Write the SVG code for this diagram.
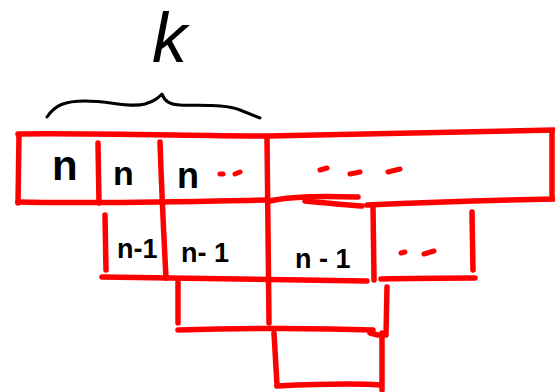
<svg xmlns="http://www.w3.org/2000/svg" width="555" height="392" viewBox="0 0 555 392">
<style>
.r{stroke:#ff0000;stroke-width:5.5;stroke-linecap:round;stroke-linejoin:round;fill:none}
.d{stroke:#ff0000;stroke-width:5;stroke-linecap:round;fill:none}
.b{stroke:#000;stroke-width:3;stroke-linecap:round;stroke-linejoin:round;fill:none}
.t{font-family:"Liberation Sans",Arial,sans-serif;font-weight:bold;fill:#000}
.k{font-family:"Liberation Sans",Arial,sans-serif;font-weight:normal;font-style:italic;fill:#000}
</style>
<rect width="555" height="392" fill="#fff"/>
<g id="label-k">
<text class="k" x="152" y="62" font-size="70">k</text>
<path class="b" d="M47,117 C55,105 65,101 85,101 C110,101 130,108 145,104 C155,101 158,98 162,94 C164,100 168,105 180,105 C200,106 225,104 240,110 L260,118"/>
</g>
<g id="row1">
<path class="r" d="M18,134 C100,133 200,136 268,136 C380,134 470,131 555,130"/>
<path class="r" d="M19,135 L18,203"/>
<path class="r" d="M18,202 C100,204 200,201 268,200"/>
<path class="r" d="M98,143 L99,203"/>
<path class="r" d="M160,142 C162,200 164,240 166,278"/>
<path class="r" d="M267,137 C268,220 268,280 269,323"/>
<path class="r" d="M552,132 L552,195"/>
<path class="r" d="M270,201 C290,196 330,196 358,197"/>
<path class="r" d="M305,201 C325,203 345,205 362,206"/>
<path class="r" d="M367,205 C430,202 500,200 555,199"/>
<text class="t" x="52" y="180" font-size="42">n</text>
<text class="t" x="113" y="185" font-size="34">n</text>
<text class="t" x="177" y="188" font-size="36">n</text>
<path class="d" d="M220,174 L223,174 M235,174 L240,172"/>
<path class="d" d="M320,170 L327,168 M350,174 L360,172 M388,172 L400,169"/>
</g>
<g id="row2">
<path class="r" d="M105,215 L106,270"/>
<path class="r" d="M102,277 C200,278 300,280 367,281"/>
<path class="r" d="M373,205 L374,280"/>
<path class="r" d="M472,212 L473,270"/>
<path class="r" d="M381,279 C420,278 450,278 475,278"/>
<text class="t" x="117" y="258" font-size="27">n-1</text>
<text class="t" x="181" y="262" font-size="27">n- 1</text>
<text class="t" x="295" y="268" font-size="27">n - 1</text>
<path class="d" d="M401,253 L405,252 M424,254 L434,251"/>
</g>
<g id="row3">
<path class="r" d="M178,282 L178,323"/>
<path class="r" d="M178,330 C250,328 320,328 373,330"/>
<path class="r" d="M387,287 L386,335"/>
<path class="r" d="M370,333 L378,335"/>
</g>
<g id="row4">
<path class="r" d="M274,333 L277,385"/>
<path class="r" d="M382,333 L382,390"/>
<path class="r" d="M277,386 C320,384 350,383 380,385"/>
</g>
</svg>
